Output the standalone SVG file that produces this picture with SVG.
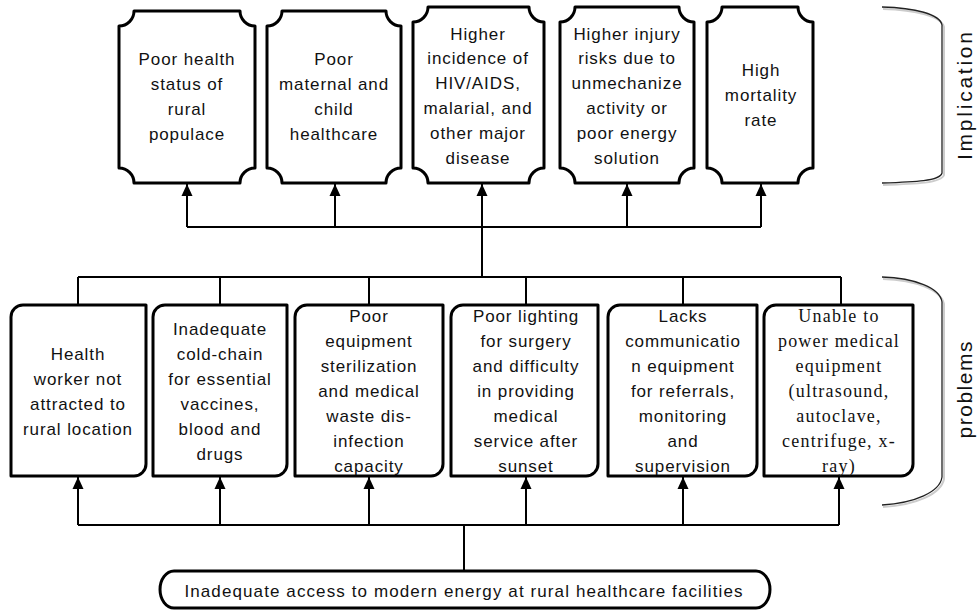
<svg xmlns="http://www.w3.org/2000/svg" width="979" height="610" viewBox="0 0 979 610">
<style>
.box{fill:#fff;stroke:#000;stroke-width:3;stroke-linejoin:round}
.t{font-family:"Liberation Sans",Arial,sans-serif;font-size:17px;letter-spacing:0.9px;fill:#111;text-anchor:middle}
.ts{font-family:"Liberation Serif","Times New Roman",serif;font-size:18px;letter-spacing:1.2px;fill:#111;text-anchor:middle}
.c{fill:none;stroke:#000;stroke-width:2}
.br{fill:none;stroke:#222;stroke-width:1.3}
.brs{fill:none;stroke:#ccc;stroke-width:2}
.lab{font-family:"Liberation Sans",Arial,sans-serif;font-size:21px;fill:#111;text-anchor:middle}
</style>
<defs>
<marker id="ah" markerUnits="userSpaceOnUse" markerWidth="13" markerHeight="13" refX="12" refY="6.5" orient="auto">
<path d="M0,1 L12,6.5 L0,12 Z" fill="#000"/>
</marker>
</defs>
<rect width="979" height="610" fill="#fff"/>

<g id="connectors">
<path class="c" d="M187,227 L761,227"/>
<path class="c" d="M482,277 L482,227"/>
<path class="c" d="M187,227 L187,184" marker-end="url(#ah)"/>
<path class="c" d="M335,227 L335,184" marker-end="url(#ah)"/>
<path class="c" d="M482,227 L482,184" marker-end="url(#ah)"/>
<path class="c" d="M627,227 L627,184" marker-end="url(#ah)"/>
<path class="c" d="M761,227 L761,184" marker-end="url(#ah)"/>
<path class="c" d="M78,277 L841,277"/>
<path class="c" d="M78,277 L78,305 M220,277 L220,305 M369,277 L369,305 M526,277 L526,305 M683,277 L683,305 M841,277 L841,305"/>
<path class="c" d="M78,525 L839,525"/>
<path class="c" d="M464,571 L464,525"/>
<path class="c" d="M78,525 L78,477" marker-end="url(#ah)"/>
<path class="c" d="M220,525 L220,477" marker-end="url(#ah)"/>
<path class="c" d="M369,525 L369,477" marker-end="url(#ah)"/>
<path class="c" d="M526,525 L526,477" marker-end="url(#ah)"/>
<path class="c" d="M683,525 L683,477" marker-end="url(#ah)"/>
<path class="c" d="M839,525 L839,477" marker-end="url(#ah)"/>
</g>

<g id="imp1">
<path class="box" d="M134,11 L240,11 A15,15 0 0 0 255,26 L255,168 A15,15 0 0 0 240,183 L134,183 A15,15 0 0 0 119,168 L119,26 A15,15 0 0 0 134,11 Z"/>
<text class="t" x="187" y="65">Poor health</text>
<text class="t" x="187" y="90">status of</text>
<text class="t" x="187" y="115">rural</text>
<text class="t" x="187" y="140">populace</text>
</g>
<g id="imp2">
<path class="box" d="M282,11 L386,11 A15,15 0 0 0 401,26 L401,168 A15,15 0 0 0 386,183 L282,183 A15,15 0 0 0 267,168 L267,26 A15,15 0 0 0 282,11 Z"/>
<text class="t" x="334" y="65">Poor</text>
<text class="t" x="334" y="90">maternal and</text>
<text class="t" x="334" y="115">child</text>
<text class="t" x="334" y="140">healthcare</text>
</g>
<g id="imp3">
<path class="box" d="M428,7 L529,7 A15,15 0 0 0 544,22 L544,168 A15,15 0 0 0 529,183 L428,183 A15,15 0 0 0 413,168 L413,22 A15,15 0 0 0 428,7 Z"/>
<text class="t" x="478" y="40">Higher</text>
<text class="t" x="478" y="64">incidence of</text>
<text class="t" x="478" y="89">HIV/AIDS,</text>
<text class="t" x="478" y="114">malarial, and</text>
<text class="t" x="478" y="139">other major</text>
<text class="t" x="478" y="164">disease</text>
</g>
<g id="imp4">
<path class="box" d="M575,7 L679,7 A15,15 0 0 0 694,22 L694,168 A15,15 0 0 0 679,183 L575,183 A15,15 0 0 0 560,168 L560,22 A15,15 0 0 0 575,7 Z"/>
<text class="t" x="627" y="40">Higher injury</text>
<text class="t" x="627" y="64">risks due to</text>
<text class="t" x="627" y="89">unmechanize</text>
<text class="t" x="627" y="114">activity or</text>
<text class="t" x="627" y="139">poor energy</text>
<text class="t" x="627" y="164">solution</text>
</g>
<g id="imp5">
<path class="box" d="M722,7 L798,7 A15,15 0 0 0 813,22 L813,168 A15,15 0 0 0 798,183 L722,183 A15,15 0 0 0 707,168 L707,22 A15,15 0 0 0 722,7 Z"/>
<text class="t" x="761" y="76">High</text>
<text class="t" x="761" y="101">mortality</text>
<text class="t" x="761" y="126">rate</text>
</g>

<g id="prob1">
<path class="box" d="M11,317 A12,12 0 0 1 23,305 L146,305 L146,464 A12,12 0 0 1 134,476 L11,476 Z"/>
<text class="t" x="78" y="360">Health</text>
<text class="t" x="78" y="385">worker not</text>
<text class="t" x="78" y="410">attracted to</text>
<text class="t" x="78" y="435">rural location</text>
</g>
<g id="prob2">
<path class="box" d="M153,317 A12,12 0 0 1 165,305 L287,305 L287,464 A12,12 0 0 1 275,476 L153,476 Z"/>
<text class="t" x="220" y="335">Inadequate</text>
<text class="t" x="220" y="360">cold-chain</text>
<text class="t" x="220" y="385">for essential</text>
<text class="t" x="220" y="410">vaccines,</text>
<text class="t" x="220" y="435">blood and</text>
<text class="t" x="220" y="460">drugs</text>
</g>
<g id="prob3">
<path class="box" d="M295,317 A12,12 0 0 1 307,305 L443,305 L443,464 A12,12 0 0 1 431,476 L295,476 Z"/>
<text class="t" x="369" y="322">Poor</text>
<text class="t" x="369" y="347">equipment</text>
<text class="t" x="369" y="372">sterilization</text>
<text class="t" x="369" y="397">and medical</text>
<text class="t" x="369" y="422">waste dis-</text>
<text class="t" x="369" y="447">infection</text>
<text class="t" x="369" y="472">capacity</text>
</g>
<g id="prob4">
<path class="box" d="M451,317 A12,12 0 0 1 463,305 L598,305 L598,464 A12,12 0 0 1 586,476 L451,476 Z"/>
<text class="t" x="526" y="322">Poor lighting</text>
<text class="t" x="526" y="347">for surgery</text>
<text class="t" x="526" y="372">and difficulty</text>
<text class="t" x="526" y="397">in providing</text>
<text class="t" x="526" y="422">medical</text>
<text class="t" x="526" y="447">service after</text>
<text class="t" x="526" y="472">sunset</text>
</g>
<g id="prob5">
<path class="box" d="M608,317 A12,12 0 0 1 620,305 L757,305 L757,464 A12,12 0 0 1 745,476 L608,476 Z"/>
<text class="t" x="683" y="322">Lacks</text>
<text class="t" x="683" y="347">communicatio</text>
<text class="t" x="683" y="372">n equipment</text>
<text class="t" x="683" y="397">for referrals,</text>
<text class="t" x="683" y="422">monitoring</text>
<text class="t" x="683" y="447">and</text>
<text class="t" x="683" y="472">supervision</text>
</g>
<g id="prob6">
<path class="box" d="M764,317 A12,12 0 0 1 776,305 L913,305 L913,464 A12,12 0 0 1 901,476 L764,476 Z"/>
<text class="ts" x="839" y="322">Unable to</text>
<text class="ts" x="839" y="347">power medical</text>
<text class="ts" x="839" y="372">equipment</text>
<text class="ts" x="839" y="397">(ultrasound,</text>
<text class="ts" x="839" y="422">autoclave,</text>
<text class="ts" x="839" y="447">centrifuge, x-</text>
<text class="ts" x="839" y="472">ray)</text>
</g>

<g id="root">
<path class="box" d="M174,571 L756,571 A14,18.5 0 0 1 756,608 L174,608 A14,18.5 0 0 1 174,571 Z"/>
<text class="t" x="464" y="597" style="letter-spacing:1.1px">Inadequate access to modern energy at rural healthcare facilities</text>
</g>

<g id="implication-bracket">
<path class="brs" d="M883,9 C916,10 941,16 944,27 L944,175 C941,183 916,184 883,185"/>
<path class="br" d="M882,7 C915,8 940,14 942,25 L942,173 C940,181 915,182 882,183"/>
<text class="lab" transform="translate(972,96) rotate(-90)" textLength="128" lengthAdjust="spacing">Implication</text>
</g>
<g id="problems-bracket">
<path class="brs" d="M883,279 C916,280 941,290 944,304 L944,479 C941,494 916,505 883,507"/>
<path class="br" d="M882,277 C915,278 940,288 942,302 L942,477 C940,492 915,503 882,505"/>
<text class="lab" transform="translate(972,390) rotate(-90)" textLength="97" lengthAdjust="spacing">problems</text>
</g>
</svg>
